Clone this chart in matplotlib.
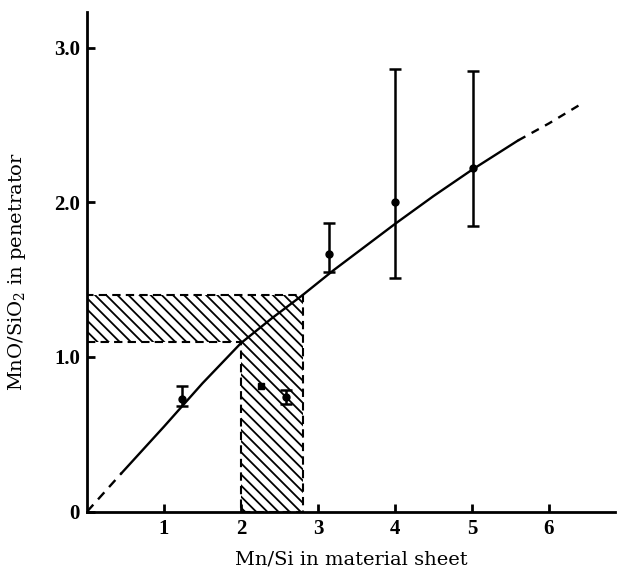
import numpy as np
import matplotlib
matplotlib.use("Agg")
import matplotlib.pyplot as plt
from matplotlib.patches import Polygon

plt.rcParams['mathtext.fontset'] = 'dejavuserif'
plt.rcParams['hatch.linewidth'] = 1.3

# measured points (Mn/Si in sheet, MnO/SiO2 in penetrator)
pts_x = [1.24, 2.59, 3.14, 4.0, 5.01]
pts_y = [0.73, 0.74, 1.665, 2.0, 2.22]
err_lo = [0.05, 0.045, 0.117, 0.49, 0.37]
err_hi = [0.08, 0.045, 0.20, 0.86, 0.63]

# single point without error bar
solo_x = [2.26]
solo_y = [0.81]

# trend curve
curve_x = [0, 0.45, 1.0, 1.5, 2.0, 2.4, 2.8, 3.2, 3.6, 4.0, 4.5, 5.0, 5.6, 6.0, 6.4]
curve_y = [0, 0.25, 0.55, 0.83, 1.09, 1.25, 1.40, 1.56, 1.71, 1.86, 2.04, 2.21, 2.40, 2.51, 2.63]
solid_from = 0.45
solid_to = 5.6

# hatched bands
band_lo, band_hi = 1.1, 1.4      # MnO/SiO2 range
sheet_lo, sheet_hi = 2.0, 2.8    # Mn/Si range

xticks = [1, 2, 3, 4, 5, 6]
yticks = [0, 1, 2, 3]
ytick_labels = ['0', '1.0', '2.0', '3.0']


fig = plt.figure(figsize=(6.17, 5.73), dpi=100)
ax = fig.add_axes([0.141, 0.107, 0.856, 0.872])

# hatched region (union of the two bands)
region = Polygon([(0, band_lo), (sheet_lo, band_lo), (sheet_lo, 0), (sheet_hi, 0),
                  (sheet_hi, band_hi), (0, band_hi)], closed=True,
                 facecolor='none', edgecolor='black', hatch='\\\\\\',
                 linestyle=(0, (4, 2.5)), linewidth=1.5, zorder=1)
ax.add_patch(region)

cx = np.array(curve_x)
cy = np.array(curve_y)
m_start = cx <= solid_from
m_mid = (cx >= solid_from) & (cx <= solid_to)
m_end = cx >= solid_to
ax.plot(cx[m_start], cy[m_start], color='black', lw=1.7, ls=(0, (4, 3)), zorder=2)
ax.plot(cx[m_mid], cy[m_mid], color='black', lw=1.7, zorder=2)
ax.plot(cx[m_end], cy[m_end], color='black', lw=1.7, ls=(0, (3.5, 3)), zorder=2)

ax.errorbar(pts_x, pts_y, yerr=[err_lo, err_hi], fmt='o', color='black',
            ms=5, elinewidth=1.8, capsize=4, capthick=1.8, zorder=3)
ax.plot(solo_x, solo_y, 's', color='black', ms=4.5, zorder=3)

ax.set_xlim(0, 6.86)
ax.set_ylim(0, 3.23)

ax.spines['top'].set_visible(False)
ax.spines['right'].set_visible(False)
ax.spines['left'].set_linewidth(2)
ax.spines['bottom'].set_linewidth(2)

ax.set_xticks(xticks)
ax.set_yticks(yticks)
ax.set_yticklabels(ytick_labels)
ax.tick_params(direction='in', length=6, width=2, pad=5)
for lab in ax.get_xticklabels() + ax.get_yticklabels():
    lab.set_fontfamily('Liberation Serif')
    lab.set_fontweight('bold')
    lab.set_fontsize(15)

ax.set_xlabel('Mn/Si in material sheet', fontfamily='DejaVu Serif', fontsize=14)
ax.set_ylabel('MnO/SiO$_2$ in penetrator', fontfamily='DejaVu Serif', fontsize=14)
ax.xaxis.set_label_coords(0.5, -0.077)
ax.yaxis.set_label_coords(-0.112, 0.48)

fig.savefig('out.png', dpi=100)
